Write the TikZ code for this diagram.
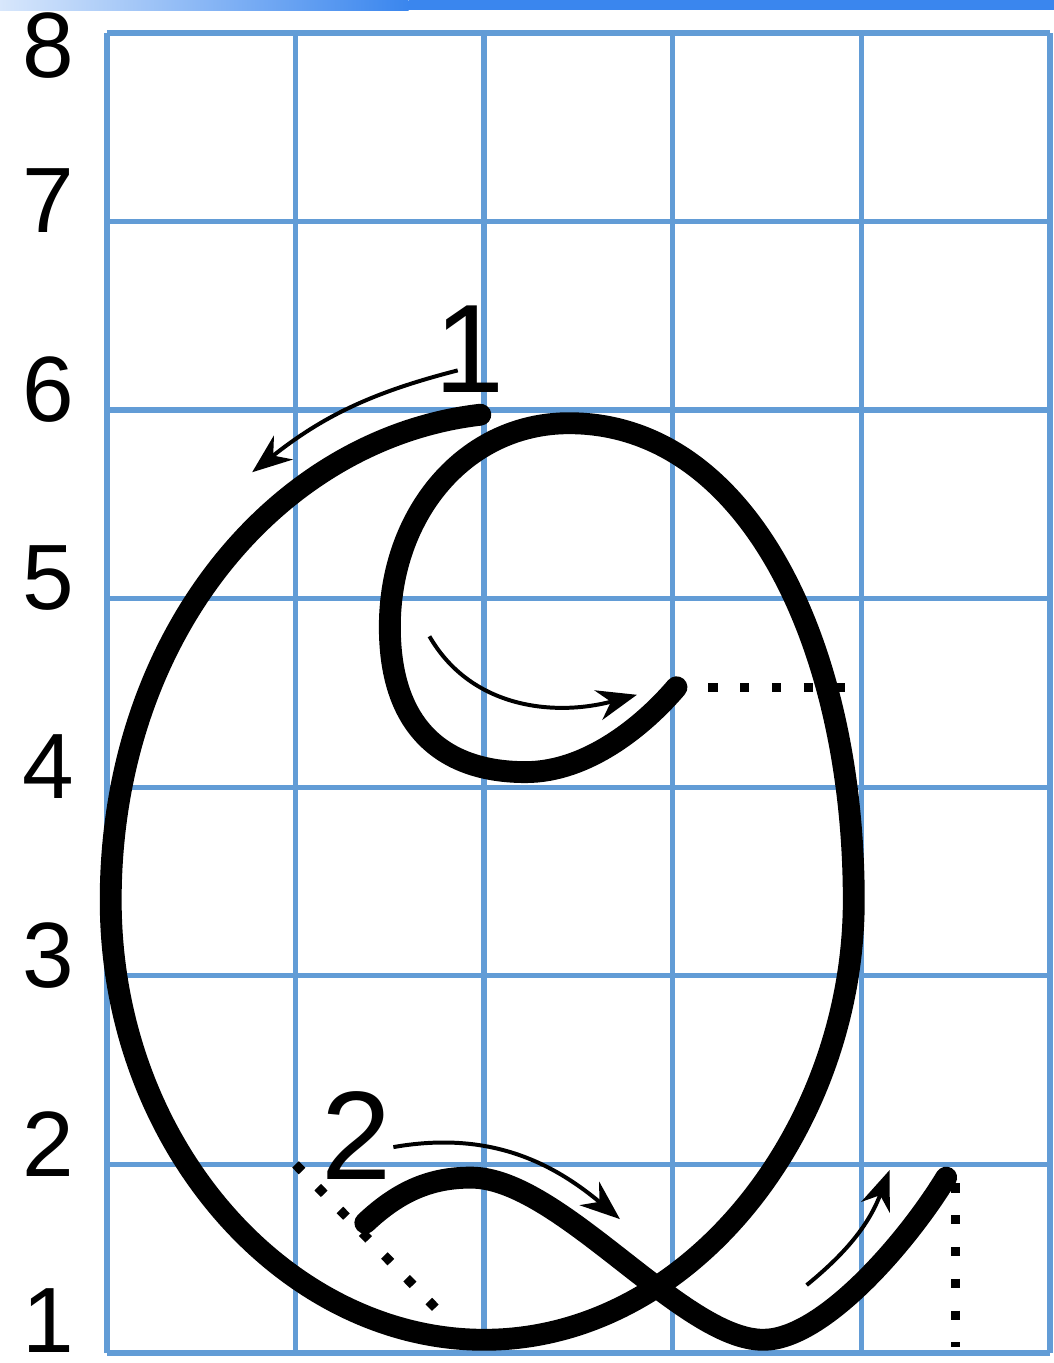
\documentclass[tikz,border=0pt]{standalone}
\usepackage{fontspec}
\setmainfont{Liberation Sans}
\usetikzlibrary{arrows.meta}
\definecolor{gridblue}{RGB}{98,156,214}
\definecolor{barblue}{RGB}{58,134,238}
\tikzset{
  gridline/.style={draw=gridblue, line width=0.8pt},
  letter/.style={line width=3.3pt, line cap=round, line join=round},
  guide/.style={line width=0.6pt, ->},
  dotline/.style={line width=1.4pt, dash pattern=on 1.4pt off 3.4pt},
  rowlabel/.style={font=\fontsize{14}{14}\selectfont, inner sep=0pt},
  steplabel/.style={font=\fontsize{19}{19}\selectfont, inner sep=0pt}
}
\begin{document}
\begin{tikzpicture}[>={Stealth[length=6pt,width=4.6pt]}]
\useasboundingbox (-0.567,0.947) rectangle (5.021,8.174);
\fill[white] (-0.567,0.947) rectangle (5.021,8.174);
\shade[left color=barblue!20, right color=barblue] (-0.567,8.12) rectangle (1.6,8.174);
\fill[barblue] (1.6,8.12) rectangle (5.021,8.174);
\draw[gridline] (0,1) grid (5,8);
\foreach \k in {2,...,7}
  \node[rowlabel] (r\k) at (-0.31,\k+0.11) {\k};
\node[rowlabel] (r1) at (-0.31,1.17) {1};
\node[rowlabel] (r8) at (-0.31,7.93) {8};

\coordinate (start) at (1.98,5.975);
\coordinate (left) at (0.02,3.4);
\coordinate (bottom) at (2.0,1.07);
\coordinate (right) at (3.96,3.4);
\coordinate (top) at (2.45,5.93);
\coordinate (curlleft) at (1.50,4.85);
\coordinate (curlbottom) at (2.22,4.08);
\coordinate (curlend) at (3.02,4.53);
\coordinate (tailstart) at (1.37,1.69);
\coordinate (tailpeak) at (1.93,1.93);
\coordinate (taillow) at (3.48,1.07);
\coordinate (tailend) at (4.45,1.93);

\coordinate (hdot) at (3.94,4.53);
\coordinate (vtop) at (4.5,1.9);
\coordinate (vbot) at (4.5,1.03);
\coordinate (dtop) at (1,2);
\coordinate (dbot) at (1.8,1.18);
\draw[dotline] (curlend) -- (hdot);
\draw[dotline] (vtop) -- (vbot);
\draw[dotline] (dtop) -- (dbot);

\draw[letter] (start) .. controls (0.9,5.85) and (0.02,4.8) .. (left)
  .. controls (0.02,2.1) and (0.95,1.07) .. (bottom)
  .. controls (3.1,1.07) and (3.96,2.2) .. (right)
  .. controls (3.96,4.75) and (3.4,5.93) .. (top)
  .. controls (1.9,5.93) and (1.50,5.45) .. (curlleft)
  .. controls (1.50,4.3) and (1.8,4.08) .. (curlbottom)
  .. controls (2.55,4.08) and (2.85,4.33) .. (curlend);
\draw[letter] (tailstart) .. controls (1.55,1.86) and (1.72,1.93) .. (tailpeak)
  .. controls (2.4,1.93) and (3.05,1.07) .. (taillow)
  .. controls (3.8,1.07) and (4.25,1.6) .. (tailend);

\node[steplabel] (n1) at (1.925,6.32) {1};
\node[steplabel] (n2) at (1.326,2.155) {2};
\coordinate (a1) at (1.86,6.21);
\coordinate (b1) at (0.77,5.67);
\coordinate (b2) at (2.72,1.71);
\coordinate (a3) at (1.71,4.80);
\coordinate (b3) at (2.81,4.49);
\coordinate (a4) at (3.71,1.36);
\coordinate (b4) at (4.15,1.97);
\draw[guide] (a1) to[bend right=12] (b1);
\draw[guide] ([yshift=-1.8pt]n2.east) to[out=10,in=140] (b2);
\draw[guide] (a3) to[out=-60,in=195] (b3);
\draw[guide] (a4) to[bend right=15] (b4);
\end{tikzpicture}
\end{document}
